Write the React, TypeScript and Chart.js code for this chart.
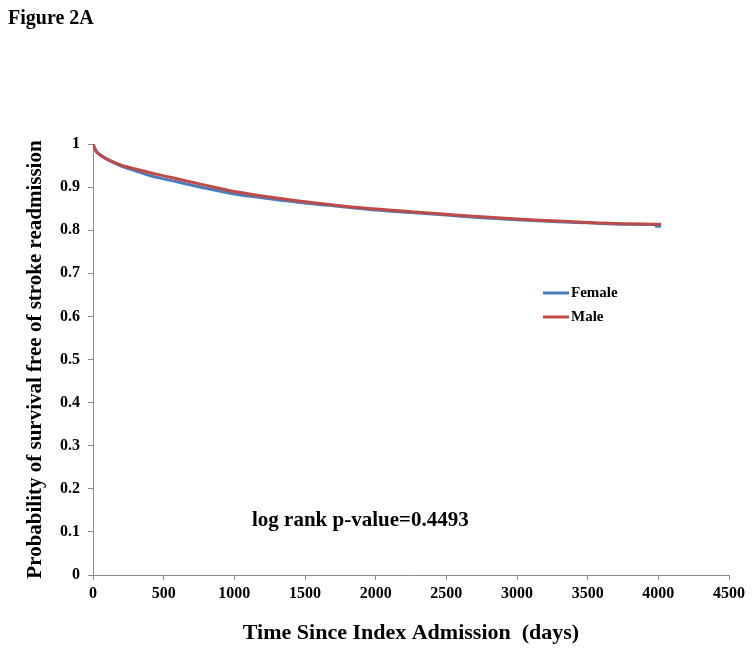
import React, { useEffect, useRef } from "react";
import { Chart, registerables } from "chart.js";

Chart.register(...registerables);

const femaleDays = [0, 20, 50, 100, 200, 300, 400, 500, 600, 800, 1000, 1250, 1500, 1750, 2000, 2250, 2500, 2750, 3000, 3250, 3500, 3750, 3980, 3985, 4020];
const femaleSurv = [1, 0.984, 0.974, 0.964, 0.949, 0.938, 0.927, 0.919, 0.912, 0.897, 0.884, 0.873, 0.863, 0.855, 0.847, 0.841, 0.835, 0.829, 0.824, 0.82, 0.817, 0.814, 0.813, 0.809, 0.809];

const maleDays = [0, 20, 50, 100, 200, 300, 400, 500, 600, 800, 1000, 1250, 1500, 1750, 2000, 2250, 2500, 2750, 3000, 3250, 3500, 3750, 4000, 4020];
const maleSurv = [1, 0.985, 0.975, 0.965, 0.951, 0.942, 0.934, 0.926, 0.919, 0.904, 0.89, 0.877, 0.866, 0.857, 0.849, 0.843, 0.837, 0.831, 0.826, 0.822, 0.818, 0.815, 0.814, 0.814];

const seriesNames = ["Female", "Male"];
const seriesColors = ["#4a7ebb", "#be4b48"];
const figureLabel = "Figure 2A";
const annotationText = "log rank p-value=0.4493";
const xTitle = "Time Since Index Admission  (days)";
const yTitle = "Probability of survival free of stroke readmission";

const FONT = "'Liberation Serif', 'Times New Roman', serif";

export default function App() {
  const ref = useRef<HTMLCanvasElement | null>(null);

  useEffect(() => {
    document.body.style.margin = "0";
    const canvas = ref.current;
    if (!canvas) return;

    const overlay = {
      id: "overlay",
      afterDraw(chart: any) {
        const ctx = chart.ctx;
        ctx.save();
        ctx.fillStyle = "#000";
        ctx.textBaseline = "alphabetic";
        ctx.textAlign = "left";
        ctx.font = `bold 20px ${FONT}`;
        ctx.fillText(figureLabel, 8, 24);

        ctx.font = `bold 21px ${FONT}`;
        ctx.textBaseline = "middle";
        ctx.fillText(annotationText, 252, 521);

        // legend
        ctx.font = `bold 15px ${FONT}`;
        const lx = 543;
        const ly = [293, 317];
        seriesNames.forEach((n, i) => {
          ctx.strokeStyle = seriesColors[i];
          ctx.lineWidth = 3;
          ctx.beginPath();
          ctx.moveTo(lx, ly[i]);
          ctx.lineTo(lx + 26, ly[i]);
          ctx.stroke();
          ctx.fillStyle = "#000";
          ctx.fillText(n, lx + 28, ly[i]);
        });
        ctx.restore();
      },
    };

    const chart = new Chart(canvas, {
      type: "line",
      data: {
        datasets: [
          {
            label: seriesNames[0],
            data: femaleDays.map((d, i) => ({ x: d, y: femaleSurv[i] })),
            borderColor: seriesColors[0],
            backgroundColor: seriesColors[0],
            borderWidth: 3,
            pointRadius: 0,
            cubicInterpolationMode: "monotone",
            order: 1,
          },
          {
            label: seriesNames[1],
            data: maleDays.map((d, i) => ({ x: d, y: maleSurv[i] })),
            borderColor: seriesColors[1],
            backgroundColor: seriesColors[1],
            borderWidth: 3,
            pointRadius: 0,
            cubicInterpolationMode: "monotone",
            order: 0,
          },
        ],
      },
      options: {
        animation: false,
        responsive: false,
        layout: { padding: { top: 144, right: 25, left: 0, bottom: 0 } },
        plugins: { legend: { display: false }, tooltip: { enabled: false } },
        scales: {
          x: {
            type: "linear",
            min: 0,
            max: 4500,
            afterFit: (s: any) => { s.height = 76; },
            ticks: { stepSize: 500, color: "#000", font: { family: FONT, size: 16, weight: "bold" }, padding: 4, maxRotation: 0, callback: (v: any) => String(v) },
            grid: { drawOnChartArea: false, drawTicks: true, tickLength: 5, color: "#8c8c8c" },
            border: { color: "#8c8c8c" },
            title: { display: true, text: xTitle, color: "#000", font: { family: FONT, size: 22, weight: "bold" }, padding: { top: 0, bottom: 4 } },
          },
          y: {
            type: "linear",
            min: 0,
            max: 1,
            afterFit: (s: any) => { s.width = 93; },
            ticks: { stepSize: 0.1, color: "#000", font: { family: FONT, size: 16, weight: "bold" }, padding: 8, callback: (v: any) => String(Math.round(v * 10) / 10) },
            grid: { drawOnChartArea: false, drawTicks: true, tickLength: 5, color: "#8c8c8c" },
            border: { color: "#8c8c8c" },
            title: { display: true, text: yTitle, color: "#000", font: { family: FONT, size: 21, weight: "bold" }, padding: { top: 23, bottom: 0 } },
          },
        },
      },
      plugins: [overlay],
    });
    return () => chart.destroy();
  }, []);

  return <canvas ref={ref} width={754} height={651} style={{ display: "block" }} />;
}
